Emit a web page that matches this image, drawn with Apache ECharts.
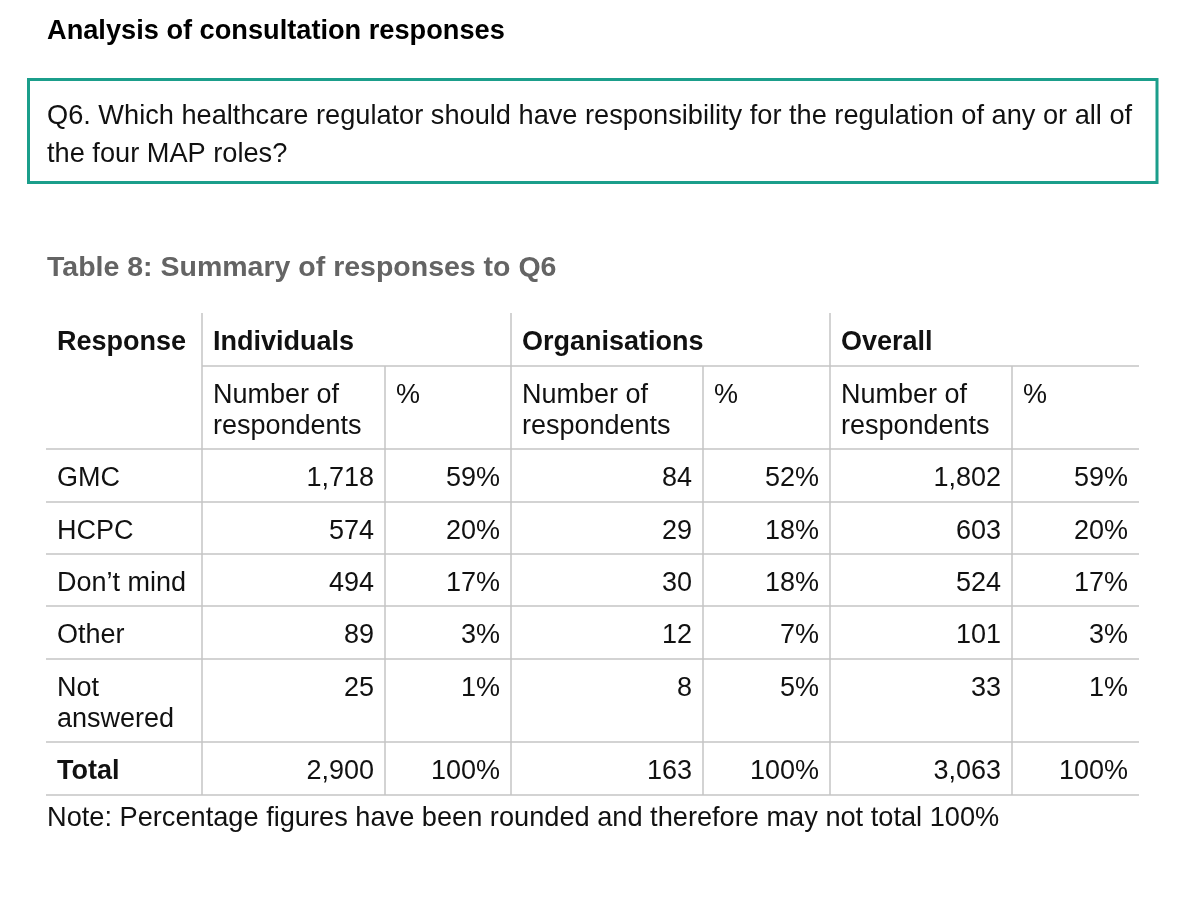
<!DOCTYPE html>
<html>
<head>
<meta charset="utf-8">
<script src="https://cdn.jsdelivr.net/npm/echarts@6/dist/echarts.min.js"></script>
<style>
html,body{margin:0;padding:0;background:#fff;}
#chart{width:1200px;height:907px;}
</style>
</head>
<body>
<div id="chart"></div>
<script>
// ---- data ----
const heading = 'Analysis of consultation responses';
const question = 'Q6. Which healthcare regulator should have responsibility for the regulation of any or all of\nthe four MAP roles?';
const tableTitle = 'Table 8: Summary of responses to Q6';
const note = 'Note: Percentage figures have been rounded and therefore may not total 100%';
const groups = ['Individuals', 'Organisations', 'Overall'];
const subHeaders = ['Number of\nrespondents', '%'];
const responses = ['GMC', 'HCPC', 'Don’t mind', 'Other', 'Not\nanswered'];
const individualsNum = [1718, 574, 494, 89, 25];
const individualsPct = [59, 20, 17, 3, 1];
const organisationsNum = [84, 29, 30, 12, 8];
const organisationsPct = [52, 18, 18, 7, 5];
const overallNum = [1802, 603, 524, 101, 33];
const overallPct = [59, 20, 17, 3, 1];
const totalNum = [2900, 163, 3063];
const totalPct = [100, 100, 100];

// ---- layout ----
const FONT = '"Liberation Sans", Arial, sans-serif';
const FS = 27;
const colEdges = [46, 202, 385, 511, 703, 830, 1012, 1139];
const rowEdges = [313, 366, 449, 502, 554, 606, 659, 742, 795];
const PAD = 11, TOPPAD = 14, LH = 31;
const lineColor = '#c4c4c4';

const fmt = n => n.toLocaleString('en-GB');

// build cells
const cells = [];
cells.push({c: 0, r: 0, t: 'Response', bold: true, align: 'left'});
groups.forEach((g, i) => cells.push({c: 1 + i * 2, r: 0, t: g, bold: true, align: 'left'}));
groups.forEach((g, i) => subHeaders.forEach((s, j) => cells.push({c: 1 + i * 2 + j, r: 1, t: s, align: 'left'})));
const numCols = [individualsNum, organisationsNum, overallNum];
const pctCols = [individualsPct, organisationsPct, overallPct];
responses.forEach((resp, k) => {
  cells.push({c: 0, r: 2 + k, t: resp, align: 'left'});
  numCols.forEach((arr, i) => {
    cells.push({c: 1 + i * 2, r: 2 + k, t: fmt(arr[k]), align: 'right'});
    cells.push({c: 2 + i * 2, r: 2 + k, t: pctCols[i][k] + '%', align: 'right'});
  });
});
const totalRow = 2 + responses.length;
cells.push({c: 0, r: totalRow, t: 'Total', bold: true, align: 'left'});
totalNum.forEach((v, i) => {
  cells.push({c: 1 + i * 2, r: totalRow, t: fmt(v), align: 'right'});
  cells.push({c: 2 + i * 2, r: totalRow, t: totalPct[i] + '%', align: 'right'});
});

// grid lines: [x1, y1, x2, y2] in layout units
const segs = [];
segs.push([colEdges[1], rowEdges[1], colEdges[7], rowEdges[1]]);
for (let r = 2; r < rowEdges.length; r++) segs.push([colEdges[0], rowEdges[r], colEdges[7], rowEdges[r]]);
[1, 3, 5].forEach(c => segs.push([colEdges[c], rowEdges[0], colEdges[c], rowEdges[rowEdges.length - 1]]));
[2, 4, 6].forEach(c => segs.push([colEdges[c], rowEdges[1], colEdges[c], rowEdges[rowEdges.length - 1]]));

const chart = echarts.init(document.getElementById('chart'), null, {renderer: 'canvas'});
chart.setOption({
  animation: false,
  grid: {left: 0, right: 0, top: 0, bottom: 0},
  xAxis: {type: 'value', min: 0, max: 1200, show: false},
  yAxis: {type: 'value', min: 0, max: 907, inverse: true, show: false},
  graphic: [
    {type: 'text', left: 47, top: 18, style: {text: heading, fill: '#000', font: 'bold 27.2px ' + FONT}},
    {type: 'rect', shape: {x: 28.5, y: 79.5, width: 1128.5, height: 103}, style: {fill: 'none', stroke: '#1b9e8b', lineWidth: 3}},
    {type: 'text', left: 47, top: 98, style: {text: question, fill: '#111', font: '27.2px ' + FONT, lineHeight: 38}},
    {type: 'text', left: 47, top: 254, style: {text: tableTitle, fill: '#646464', font: 'bold 28.5px ' + FONT}},
    {type: 'text', left: 47, top: 805, style: {text: note, fill: '#111', font: '27.2px ' + FONT}}
  ],
  series: [
    {
      type: 'custom',
      name: 'lines',
      silent: true,
      clip: false,
      data: segs.map((s, i) => [i]),
      encode: {x: -1, y: -1},
      renderItem: (params, api) => {
        const s = segs[params.dataIndex];
        const p1 = api.coord([s[0], s[1]]);
        const p2 = api.coord([s[2], s[3]]);
        return {type: 'line', shape: {x1: p1[0], y1: p1[1], x2: p2[0], y2: p2[1]},
          style: {stroke: lineColor, lineWidth: 1.5}};
      }
    },
    {
      type: 'custom',
      name: 'cells',
      silent: true,
      clip: false,
      data: cells.map((c, i) => [i]),
      encode: {x: -1, y: -1},
      renderItem: (params, api) => {
        const cell = cells[params.dataIndex];
        const x = cell.align === 'left' ? colEdges[cell.c] + PAD : colEdges[cell.c + 1] - PAD;
        const p = api.coord([x, rowEdges[cell.r] + TOPPAD]);
        return {type: 'text', style: {
          x: p[0], y: p[1], text: cell.t, fill: '#111',
          fontSize: FS, fontFamily: FONT, fontWeight: cell.bold ? 'bold' : 'normal',
          align: cell.align, verticalAlign: 'top', lineHeight: LH
        }};
      }
    }
  ]
});
</script>
</body>
</html>
